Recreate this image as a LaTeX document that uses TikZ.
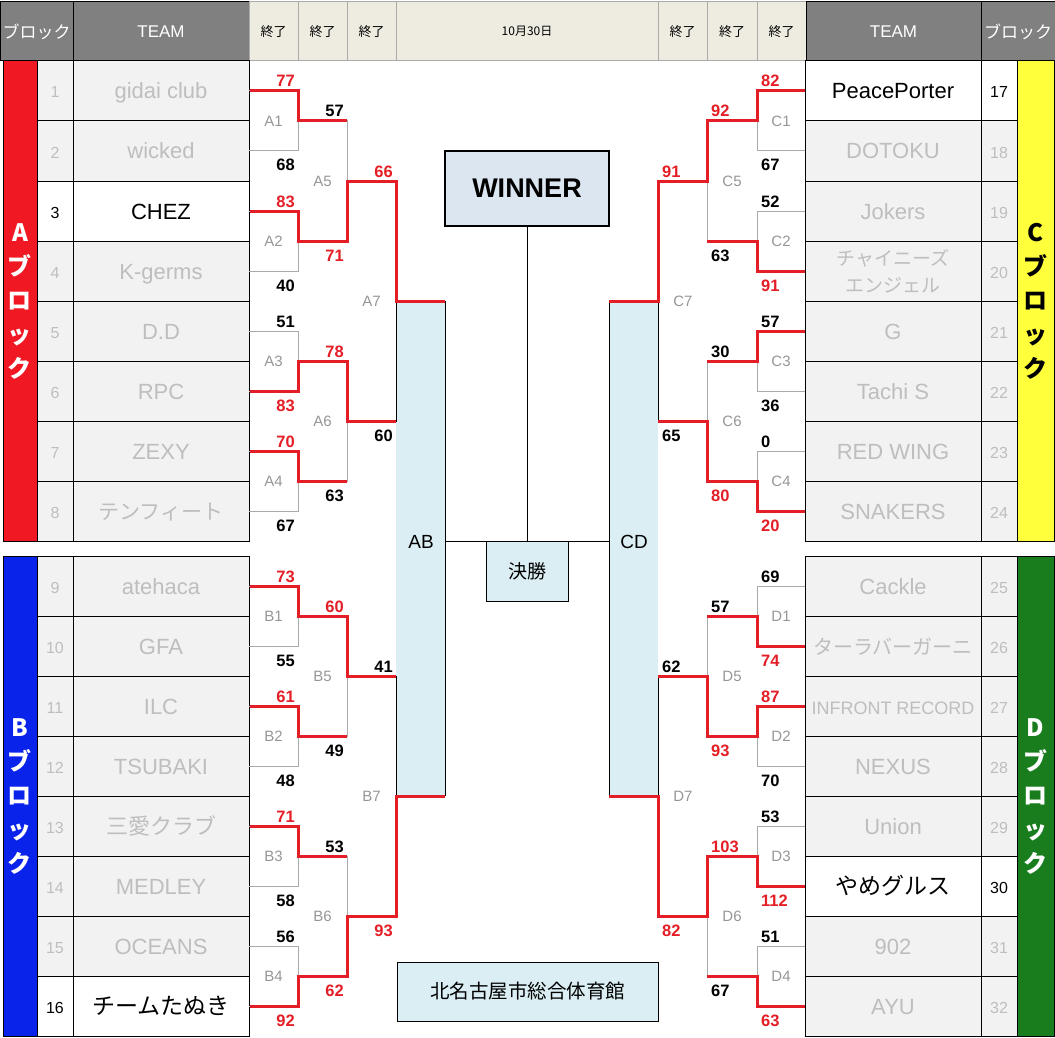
\documentclass[tikz,border=0pt]{standalone}
\usepackage{fontspec}
\setmainfont{Liberation Sans}
\newfontfamily\jp{Noto Sans CJK JP}
\definecolor{hdrdark}{RGB}{128,128,128}
\definecolor{hdrlight}{RGB}{238,236,225}
\definecolor{hdrline}{RGB}{170,170,170}
\definecolor{teamfill}{RGB}{242,242,242}
\definecolor{teamtext}{RGB}{190,190,190}
\definecolor{brgray}{RGB}{170,170,170}
\definecolor{winred}{RGB}{228,30,38}
\definecolor{lblue}{RGB}{218,238,243}
\definecolor{wfill}{RGB}{220,230,241}
\definecolor{blkA}{RGB}{240,25,35}
\definecolor{blkB}{RGB}{10,35,235}
\definecolor{blkC}{RGB}{255,255,60}
\definecolor{blkD}{RGB}{25,125,30}
\definecolor{lblgray}{RGB}{150,150,150}
\newcommand\fs[1]{\fontsize{#1}{#1}\selectfont}
\newcommand\gbox[4]{\draw[brline] (#1,#3) -- (#2,#3) -- (#2,#4) -- (#1,#4);}
\tikzset{
  hdark/.style={draw=black, line width=1pt, fill=hdrdark, text=white, minimum height=59pt, inner sep=0pt, font=\fs{17}},
  hlight/.style={draw=hdrline, line width=1pt, fill=hdrlight, text=black, minimum height=59pt, inner sep=0pt},
  team/.style={draw=black, line width=1pt, fill=teamfill, text=teamtext, minimum width=176pt, minimum height=60pt, inner sep=0pt, align=center, text height=21pt, text depth=5pt, font=\fs{22}},
  teamw/.style={team, fill=white, text=black},
  num/.style={team, minimum width=36pt, text height=18pt, text depth=4pt, font=\fs{16}},
  numw/.style={num, fill=white, text=black},
  blk/.style={draw=black, line width=1pt, minimum height=480pt, inner sep=0pt, align=center, font={\jp\bfseries\fontsize{24}{34}\selectfont}},
  brline/.style={draw=brgray, line width=1pt},
  blkline/.style={draw=black, line width=1pt},
  winpath/.style={draw=winred, line width=3pt, line join=miter},
  mlabel/.style={text=lblgray, inner sep=0pt, font=\fs{15}},
  sc/.style={inner sep=0pt, font=\bfseries\fs{16.5}},
  scL/.style={sc, anchor=base east},
  scR/.style={sc, anchor=base west},
  rd/.style={text=winred},
  boxnode/.style={draw=black, line width=1pt, fill=lblue, inner sep=0pt}
}
\begin{document}
\begin{tikzpicture}[x=1pt,y=-1pt]
\useasboundingbox (0,0) rectangle (1055,1038);
% ---------- header ----------
\node[hdark, minimum width=73pt] (h1) at (36.5,31.5) {\jp ブロック};
\node[hdark, minimum width=176pt] (h2) at (161,31.5) {TEAM};
\node[hlight, minimum width=49pt] (h3) at (273.5,31.5) {\jp\fs{13}終了};
\node[hlight, minimum width=49pt] (h4) at (322.5,31.5) {\jp\fs{13}終了};
\node[hlight, minimum width=49pt] (h5) at (371.5,31.5) {\jp\fs{13}終了};
\node[hlight, minimum width=262pt] (h6) at (527,31.5) {\jp\fs{12}10月30日};
\node[hlight, minimum width=49pt] (h7) at (682.5,31.5) {\jp\fs{13}終了};
\node[hlight, minimum width=50pt] (h8) at (732,31.5) {\jp\fs{13}終了};
\node[hlight, minimum width=49pt] (h9) at (781.5,31.5) {\jp\fs{13}終了};
\node[hdark, minimum width=175pt] (h10) at (893.5,31.5) {TEAM};
\node[hdark, minimum width=74pt] (h11) at (1018,31.5) {\jp ブロック};
% ---------- block columns ----------
\node[blk, fill=blkA, text=white, minimum width=34pt] (bA) at (20,301) {A\\ブ\\ロ\\ッ\\ク};
\node[blk, fill=blkB, text=white, minimum width=34pt] (bB) at (20,796) {B\\ブ\\ロ\\ッ\\ク};
\node[blk, fill=blkC, text=black, minimum width=37pt] (bC) at (1035.5,301) {C\\ブ\\ロ\\ッ\\ク};
\node[blk, fill=blkD, text=white, minimum width=37pt] (bD) at (1035.5,796) {D\\ブ\\ロ\\ッ\\ク};
% ---------- left teams ----------
\node[team] (t1) at (161,91) {gidai club};      \node[num] (n1) at (55,91) {1};
\node[team] (t2) at (161,151) {wicked};         \node[num] (n2) at (55,151) {2};
\node[teamw] (t3) at (161,211) {CHEZ};          \node[numw] (n3) at (55,211) {3};
\node[team] (t4) at (161,271) {K-germs};        \node[num] (n4) at (55,271) {4};
\node[team] (t5) at (161,331) {D.D};            \node[num] (n5) at (55,331) {5};
\node[team] (t6) at (161,391) {RPC};            \node[num] (n6) at (55,391) {6};
\node[team] (t7) at (161,451) {ZEXY};           \node[num] (n7) at (55,451) {7};
\node[team] (t8) at (161,511) {\jp\fs{21}テンフィート}; \node[num] (n8) at (55,511) {8};
\node[team] (t9) at (161,586) {atehaca};        \node[num] (n9) at (55,586) {9};
\node[team] (t10) at (161,646) {GFA};           \node[num] (n10) at (55,646) {10};
\node[team] (t11) at (161,706) {ILC};           \node[num] (n11) at (55,706) {11};
\node[team] (t12) at (161,766) {TSUBAKI};       \node[num] (n12) at (55,766) {12};
\node[team] (t13) at (161,826) {\jp\fs{22}三愛クラブ}; \node[num] (n13) at (55,826) {13};
\node[team] (t14) at (161,886) {MEDLEY};        \node[num] (n14) at (55,886) {14};
\node[team] (t15) at (161,946) {OCEANS};        \node[num] (n15) at (55,946) {15};
\node[teamw] (t16) at (161,1006) {\jp\fs{23}チームたぬき}; \node[numw] (n16) at (55,1006) {16};
% ---------- right teams ----------
\node[teamw] (t17) at (893,91) {PeacePorter};   \node[numw] (n17) at (999,91) {17};
\node[team] (t18) at (893,151) {DOTOKU};        \node[num] (n18) at (999,151) {18};
\node[team] (t19) at (893,211) {Jokers};        \node[num] (n19) at (999,211) {19};
\node[team, text height=, text depth=, font={\jp\fontsize{19}{27}\selectfont}] (t20) at (893,271) {チャイニーズ\\エンジェル}; \node[num] (n20) at (999,271) {20};
\node[team] (t21) at (893,331) {G};             \node[num] (n21) at (999,331) {21};
\node[team] (t22) at (893,391) {Tachi S};       \node[num] (n22) at (999,391) {22};
\node[team] (t23) at (893,451) {RED WING};      \node[num] (n23) at (999,451) {23};
\node[team] (t24) at (893,511) {SNAKERS};       \node[num] (n24) at (999,511) {24};
\node[team] (t25) at (893,586) {Cackle};        \node[num] (n25) at (999,586) {25};
\node[team] (t26) at (893,646) {\jp\fs{20}ターラバーガーニ}; \node[num] (n26) at (999,646) {26};
\node[team] (t27) at (893,706) {\fs{18}INFRONT RECORD}; \node[num] (n27) at (999,706) {27};
\node[team] (t28) at (893,766) {NEXUS};         \node[num] (n28) at (999,766) {28};
\node[team] (t29) at (893,826) {Union};         \node[num] (n29) at (999,826) {29};
\node[teamw] (t30) at (893,886) {\jp\fs{23}やめグルス}; \node[numw] (n30) at (999,886) {30};
\node[team] (t31) at (893,946) {902};           \node[num] (n31) at (999,946) {31};
\node[team] (t32) at (893,1006) {AYU};          \node[num] (n32) at (999,1006) {32};
% ---------- centre boxes ----------
\fill[lblue] (396,301) rectangle (445,796);
\draw[blkline] (445,301) -- (445,796);
\fill[lblue] (609,301) rectangle (658,796);
\draw[blkline] (609,301) -- (609,796);
\node[font=\fs{19}] (ab) at (421,542) {AB};
\node[font=\fs{19}] (cd) at (634,542) {CD};
\node[draw=black, line width=1.6pt, fill=wfill, minimum width=164pt, minimum height=75pt, inner sep=0pt, font=\bfseries\fs{27}] (win) at (527,188.5) {WINNER};
\node[boxnode, minimum width=82pt, minimum height=60pt, anchor=north, font=\jp\fs{19}] (fin) at (527,541) {決勝};
\draw[blkline] (win.south) -- (fin.north);
\draw[blkline] (445,541) -- (609,541);
\node[boxnode, minimum width=261pt, minimum height=59pt, font=\jp\fs{19.5}] (venue) at (527.5,991.5) {北名古屋市総合体育館};
% ---------- bracket boxes (left) ----------
\gbox{249}{298}{91}{151} \gbox{249}{298}{211}{271} \gbox{249}{298}{331}{391} \gbox{249}{298}{451}{511}
\gbox{298}{347}{121}{241} \gbox{298}{347}{361}{481}
\draw[blkline] (347,181) -- (396,181) -- (396,421) -- (347,421);
\gbox{249}{298}{586}{646} \gbox{249}{298}{706}{766} \gbox{249}{298}{826}{886} \gbox{249}{298}{946}{1006}
\gbox{298}{347}{616}{736} \gbox{298}{347}{856}{976}
\draw[blkline] (347,676) -- (396,676) -- (396,916) -- (347,916);
% ---------- bracket boxes (right) ----------
\gbox{805}{757}{91}{151} \gbox{805}{757}{211}{271} \gbox{805}{757}{331}{391} \gbox{805}{757}{451}{511}
\gbox{757}{707}{121}{241} \gbox{757}{707}{361}{481}
\draw[blkline] (707,181) -- (658,181) -- (658,421) -- (707,421);
\gbox{805}{757}{586}{646} \gbox{805}{757}{706}{766} \gbox{805}{757}{826}{886} \gbox{805}{757}{946}{1006}
\gbox{757}{707}{616}{736} \gbox{757}{707}{856}{976}
\draw[blkline] (707,676) -- (658,676) -- (658,916) -- (707,916);
% ---------- match labels ----------
\node[mlabel] (A1) at (273.5,121) {A1}; \node[mlabel] (A2) at (273.5,241) {A2};
\node[mlabel] (A3) at (273.5,361) {A3}; \node[mlabel] (A4) at (273.5,481) {A4};
\node[mlabel] (A5) at (322.5,181) {A5}; \node[mlabel] (A6) at (322.5,421) {A6};
\node[mlabel] (A7) at (371.5,301) {A7};
\node[mlabel] (B1) at (273.5,616) {B1}; \node[mlabel] (B2) at (273.5,736) {B2};
\node[mlabel] (B3) at (273.5,856) {B3}; \node[mlabel] (B4) at (273.5,976) {B4};
\node[mlabel] (B5) at (322.5,676) {B5}; \node[mlabel] (B6) at (322.5,916) {B6};
\node[mlabel] (B7) at (371.5,796) {B7};
\node[mlabel] (C1) at (781,121) {C1}; \node[mlabel] (C2) at (781,241) {C2};
\node[mlabel] (C3) at (781,361) {C3}; \node[mlabel] (C4) at (781,481) {C4};
\node[mlabel] (C5) at (732,181) {C5}; \node[mlabel] (C6) at (732,421) {C6};
\node[mlabel] (C7) at (683,301) {C7};
\node[mlabel] (D1) at (781,616) {D1}; \node[mlabel] (D2) at (781,736) {D2};
\node[mlabel] (D3) at (781,856) {D3}; \node[mlabel] (D4) at (781,976) {D4};
\node[mlabel] (D5) at (732,676) {D5}; \node[mlabel] (D6) at (732,916) {D6};
\node[mlabel] (D7) at (683,796) {D7};
% ---------- winning paths ----------
\draw[winpath] (t1.east |- 0,91) -- (298,91) -- (298,121) -- (347,121);
\draw[winpath] (t3.east |- 0,211) -- (298,211) -- (298,241) -- (347,241) -- (347,181) -- (396,181) -- (396,301) -- (445,301);
\draw[winpath] (t6.east |- 0,391) -- (298,391) -- (298,361) -- (347,361) -- (347,421) -- (396,421);
\draw[winpath] (t7.east |- 0,451) -- (298,451) -- (298,481) -- (347,481);
\draw[winpath] (t9.east |- 0,586) -- (298,586) -- (298,616) -- (347,616) -- (347,676) -- (396,676);
\draw[winpath] (t11.east |- 0,706) -- (298,706) -- (298,736) -- (347,736);
\draw[winpath] (t13.east |- 0,826) -- (298,826) -- (298,856) -- (347,856);
\draw[winpath] (t16.east |- 0,1006) -- (298,1006) -- (298,976) -- (347,976) -- (347,916) -- (396,916) -- (396,796) -- (445,796);
\draw[winpath] (t17.west |- 0,91) -- (757,91) -- (757,121) -- (707,121) -- (707,181) -- (658,181) -- (658,301) -- (609,301);
\draw[winpath] (t20.west |- 0,271) -- (757,271) -- (757,241) -- (707,241);
\draw[winpath] (t21.west |- 0,331) -- (757,331) -- (757,361) -- (707,361);
\draw[winpath] (t24.west |- 0,511) -- (757,511) -- (757,481) -- (707,481) -- (707,421) -- (658,421);
\draw[winpath] (t26.west |- 0,646) -- (757,646) -- (757,616) -- (707,616);
\draw[winpath] (t27.west |- 0,706) -- (757,706) -- (757,736) -- (707,736) -- (707,676) -- (658,676);
\draw[winpath] (t30.west |- 0,886) -- (757,886) -- (757,856) -- (707,856) -- (707,916) -- (658,916) -- (658,796) -- (609,796);
\draw[winpath] (t32.west |- 0,1006) -- (757,1006) -- (757,976) -- (707,976);
% ---------- scores left ----------
\node[scL,rd] at (295,87) {77};  \node[scL] at (295,171) {68};
\node[scL,rd] at (295,207) {83}; \node[scL] at (295,291) {40};
\node[scL] at (295,327) {51};    \node[scL,rd] at (295,411) {83};
\node[scL,rd] at (295,447) {70}; \node[scL] at (295,531) {67};
\node[scL] at (344,117) {57};    \node[scL,rd] at (344,261) {71};
\node[scL,rd] at (344,357) {78}; \node[scL] at (344,501) {63};
\node[scL,rd] at (393,177) {66}; \node[scL] at (393,441) {60};
\node[scL,rd] at (295,582) {73}; \node[scL] at (295,666) {55};
\node[scL,rd] at (295,702) {61}; \node[scL] at (295,786) {48};
\node[scL,rd] at (295,822) {71}; \node[scL] at (295,906) {58};
\node[scL] at (295,942) {56};    \node[scL,rd] at (295,1026) {92};
\node[scL,rd] at (344,612) {60}; \node[scL] at (344,756) {49};
\node[scL] at (344,852) {53};    \node[scL,rd] at (344,996) {62};
\node[scL] at (393,672) {41};    \node[scL,rd] at (393,936) {93};
% ---------- scores right ----------
\node[scR,rd] at (761,87) {82};  \node[scR] at (761,171) {67};
\node[scR] at (761,207) {52};    \node[scR,rd] at (761,291) {91};
\node[scR] at (761,327) {57};    \node[scR] at (761,411) {36};
\node[scR] at (761,447) {0};     \node[scR,rd] at (761,531) {20};
\node[scR,rd] at (711,117) {92}; \node[scR] at (711,261) {63};
\node[scR] at (711,357) {30};    \node[scR,rd] at (711,501) {80};
\node[scR,rd] at (662,177) {91}; \node[scR] at (662,441) {65};
\node[scR] at (761,582) {69};    \node[scR,rd] at (761,666) {74};
\node[scR,rd] at (761,702) {87}; \node[scR] at (761,786) {70};
\node[scR] at (761,822) {53};    \node[scR,rd] at (761,906) {112};
\node[scR] at (761,942) {51};    \node[scR,rd] at (761,1026) {63};
\node[scR] at (711,612) {57};    \node[scR,rd] at (711,756) {93};
\node[scR,rd] at (711,852) {103}; \node[scR] at (711,996) {67};
\node[scR] at (662,672) {62};    \node[scR,rd] at (662,936) {82};
\end{tikzpicture}
\end{document}
